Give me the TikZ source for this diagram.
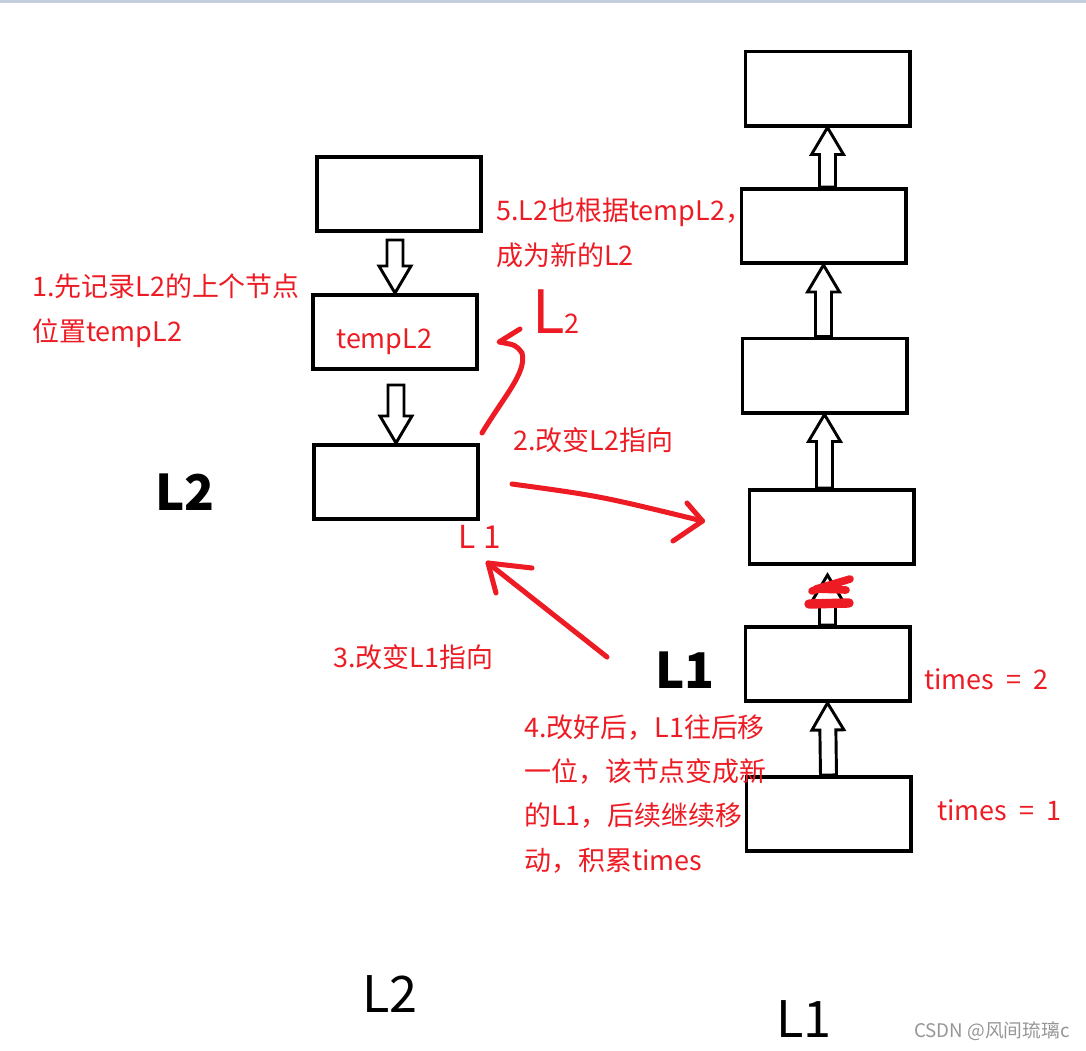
\documentclass[tikz,border=0pt]{standalone}
\usepackage{fontspec}
\setmainfont{Noto Sans CJK SC}
\usepackage{tikz}
\usetikzlibrary{calc, positioning, arrows.meta}
\definecolor{inkRed}{RGB}{237,28,36}
\definecolor{barGrey}{RGB}{196,205,222}
\definecolor{markGrey}{RGB}{150,150,150}

% hollow block arrow from #1 to #2
\newcommand{\blockarrow}[2]{%
  \coordinate (ba-s) at (#1);
  \coordinate (ba-t) at (#2);
  \coordinate (ba-h) at ($(ba-t)!0.81cm!(ba-s)$);
  \draw[hollowarrow] ($(ba-s)!0.24cm!90:(ba-t)$) -- ($(ba-h)!0.24cm!-90:(ba-s)$)
    -- ($(ba-h)!0.48cm!-90:(ba-s)$) -- (ba-t) -- ($(ba-h)!0.48cm!90:(ba-s)$)
    -- ($(ba-h)!0.24cm!90:(ba-s)$) -- ($(ba-s)!0.24cm!-90:(ba-t)$) -- cycle;}

\begin{document}
\begin{tikzpicture}[
  x=0.03cm, y=-0.03cm,
  listbox/.style={draw, line width=3.4pt, minimum width=4.92cm, minimum height=2.22cm, inner sep=0pt},
  hollowarrow/.style={draw, fill=white, line width=2.5pt, line join=miter},
  redstroke/.style={draw=inkRed, line width=4.3pt, line cap=round, line join=round},
  redtext/.style={text=inkRed, inner sep=0pt, anchor=base west, align=left, font=\fontsize{23pt}{37.6pt}\selectfont},
  handtext/.style={text=inkRed, inner sep=0pt, anchor=base west},
  boldlab/.style={inner sep=0pt, anchor=base west, font=\fontsize{42pt}{42pt}\selectfont\bfseries},
  plainlab/.style={inner sep=0pt, anchor=base west, font=\fontsize{43pt}{43pt}\selectfont}
]
\useasboundingbox (0,0) rectangle (1086,1050);
\fill[barGrey] (0,0) rectangle (1086,2.5);

% L2 list
\node[listbox] (A) at (399,194) {};
\node[listbox] (B) at (395,332) {};
\node[listbox] (C) at (396,482) {};

% L1 list
\node[listbox] (R1) at (827.5,88.5) {};
\node[listbox] (R2) at (823.5,226) {};
\node[listbox] (R3) at (824.5,375.5) {};
\node[listbox] (R4) at (831.5,527) {};
\node[listbox] (R5) at (827.5,664) {};
\node[listbox] (R6) at (828.5,814) {};

% next pointers
\blockarrow{$(B.north |- A.south)+(0,7)$}{B.north}
\blockarrow{$(C.north |- B.south)+(0,14)$}{C.north}
\blockarrow{R1.south |- R2.north}{R1.south}
\blockarrow{R2.south |- R3.north}{R2.south}
\blockarrow{R3.south |- R4.north}{R3.south}
\blockarrow{R5.north}{$(R5.north |- R4.south)+(0,9)$}
\blockarrow{R6.north}{R5.south}

% crossed-out pointer
\draw[redstroke, line width=6.5pt] (812,591) -- (850,579) -- (816,589) -- (846,590);
\draw[redstroke, line width=8pt] (809,604) -- (849,603);

% hand-drawn red arrows
\coordinate (c2up) at ($(C.north east)+(2,-10)$);
\coordinate (tipB) at (499,342);
\draw[redstroke] (c2up) .. controls (505,395) and (527,372) .. (522,353)
  .. controls (516,345) .. (tipB) -- (520,329);
\coordinate (c2r) at ($(C.east)+(32,2)$);
\coordinate (tipR4) at ($(R4.west)+(-45,-6)$);
\draw[redstroke] (c2r) .. controls (600,496) .. (tipR4);
\draw[redstroke] (687,503) -- (tipR4) -- (673,541);
\coordinate (l1from) at (607,657);
\coordinate (tipC) at (488,563);
\draw[redstroke] (l1from) -- (tipC);
\draw[redstroke] (532,568) -- (tipC) -- (496,593);

% hand labels
\node[handtext, font=\fontsize{51pt}{51pt}\selectfont] (handL2) at (532,333) {L{\fontsize{23pt}{23pt}\selectfont 2}};
\node[handtext, font=\fontsize{27pt}{27pt}\selectfont] (handL1) at (458,548) {L\hspace{0.25em}1};

% step notes (base = last line)
\node[redtext] (step1) at (32,341) {1.先记录L2的上个节点\\位置tempL2};
\node[redtext] (temp) at (336,348) {tempL2};
\node[redtext] (step5) at (496,265) {5.L2也根据tempL2，\\成为新的L2};
\node[redtext] (step2) at (513,450) {2.改变L2指向};
\node[redtext] (step3) at (333,667) {3.改变L1指向};
\node[redtext] (step4) at (524,870) {4.改好后，L1往后移\\一位，该节点变成新\\的L1，后续继续移\\动，积累times};
\node[redtext] (times2) at (924,689) {times\hspace{0.45em}=\hspace{0.45em}2};
\node[redtext] (times1) at (937,820) {times\hspace{0.45em}=\hspace{0.45em}1};

% list names
\node[boldlab] (nameL2) at (155,510) {L2};
\node[boldlab] (nameL1) at (655,688) {L1};
\node[plainlab] (footL2) at (362,1012) {L2};
\node[plainlab] (footL1) at (776,1037) {L1};
\node[inner sep=0pt, anchor=base west, text=markGrey, font=\fontsize{16pt}{16pt}\selectfont] (mark) at (914,1037) {CSDN @风间琉璃c};
\end{tikzpicture}
\end{document}
